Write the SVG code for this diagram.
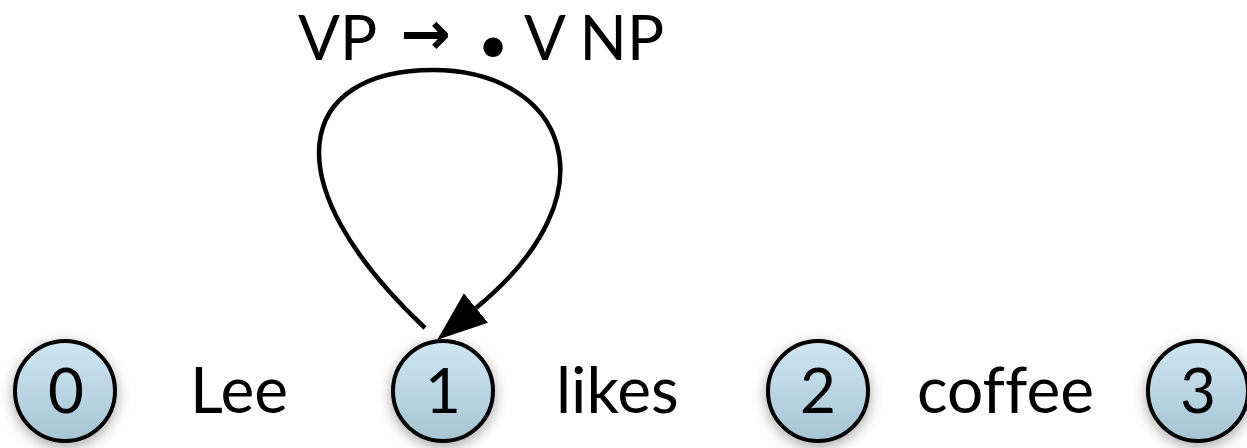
<svg xmlns="http://www.w3.org/2000/svg" width="1247" height="448" viewBox="0 0 1247 448">
<style>
.node circle{fill:url(#g);stroke:#000;stroke-width:4;filter:url(#sh)}
.num{font-family:Lato,"Liberation Sans",sans-serif;font-size:62px;text-anchor:middle;fill:#000}
.word{font-family:Lato,"Liberation Sans",sans-serif;font-size:64px;fill:#000;font-variant-ligatures:none}
.lbl{font-family:Lato,"Liberation Sans",sans-serif;font-size:62px;fill:#000}
.edge{fill:none;stroke:#000;stroke-width:4.5}
</style>
<defs>
<linearGradient id="g" x1="0" y1="0" x2="0" y2="1">
<stop offset="0" stop-color="#cfe6f3"/>
<stop offset="1" stop-color="#a6c4d3"/>
</linearGradient>
<filter id="sh" x="-40%" y="-40%" width="180%" height="180%">
<feDropShadow dx="0" dy="4" stdDeviation="7" flood-color="#000" flood-opacity="0.35"/>
</filter>
<marker id="ah" markerUnits="userSpaceOnUse" markerWidth="52" markerHeight="40" refX="0" refY="19" orient="auto">
<path d="M0,0 L50,19 L0,38 z" fill="#000"/>
</marker>
</defs>
<rect width="1247" height="448" fill="#fff"/>
<g id="connectors">
<path class="edge" d="M425,328 C268,180 298,70 433,70 C562,70 620,190 476,308" marker-end="url(#ah)"/>
</g>
<g id="label">
<text class="lbl" x="298" y="60">VP</text>
<text x="426" y="54" font-family="DejaVu Sans, sans-serif" font-weight="bold" font-size="60" text-anchor="middle">→</text>
<text x="493" y="63" font-family="Lato, sans-serif" font-size="52" text-anchor="middle">•</text>
<text class="lbl" x="524" y="60">V NP</text>
</g>
<g id="node0" class="node"><circle cx="65" cy="391" r="50"/><text class="num" x="66" y="413">0</text></g>
<g id="node1" class="node"><circle cx="443" cy="391" r="50"/><text class="num" x="443" y="413">1</text></g>
<g id="node2" class="node"><circle cx="818" cy="391" r="50"/><text class="num" x="818" y="413">2</text></g>
<g id="node3" class="node"><circle cx="1198" cy="391" r="50"/><text class="num" x="1198" y="413">3</text></g>
<g id="words">
<text class="word" x="190" y="413">Lee</text>
<text class="word" x="556" y="413">likes</text>
<text class="word" x="917" y="413">coffee</text>
</g>
</svg>
